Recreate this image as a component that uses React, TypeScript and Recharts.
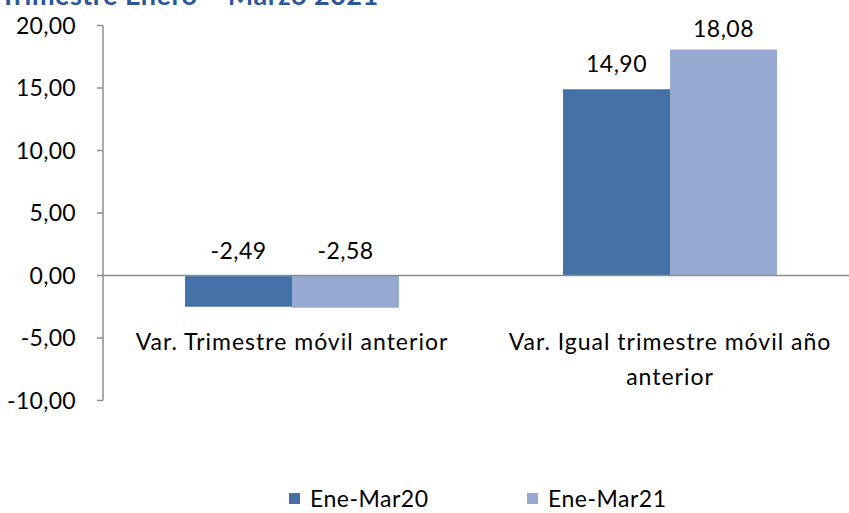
import React from 'react';
import { BarChart, Bar, XAxis, YAxis, ReferenceLine, LabelList, Legend } from 'recharts';

const categories = ['Var. Trimestre móvil anterior', 'Var. Igual trimestre móvil año anterior'];
const categoryLines = [['Var. Trimestre móvil anterior'], ['Var. Igual trimestre móvil año', 'anterior']];
const seriesNames = ['Ene-Mar20', 'Ene-Mar21'];
const ene20 = [-2.49, 14.9];
const ene21 = [-2.58, 18.08];
const yTicks = [-10, -5, 0, 5, 10, 15, 20];
const title = 'Trimestre Enero – Marzo 2021';

const COLORS = ['#4472A8', '#95A9D1'];
const AXIS = '#8E8E8E';
const FONT = 'Lato, sans-serif';

const data = categories.map((c, i) => ({ cat: c, idx: i, a: ene20[i], b: ene21[i] }));

const fmt = (v: number) => v.toFixed(2).replace('.', ',');

const BarLabel = (props: any) => {
  const { x, y, width, height, value } = props;
  const top = Math.min(y, y + height);
  const baseline = Math.max(top - 17, 37);
  return (
    <text x={x + width / 2} y={baseline} textAnchor="middle" fontFamily={FONT} fontSize={23} letterSpacing={0.5} fill="#000">
      {fmt(value)}
    </text>
  );
};

const CatTick = (props: any) => {
  const { x, y, payload, index } = props;
  const lines = categoryLines[index] || [payload.value];
  return (
    <text x={x} y={y} textAnchor="middle" fontFamily={FONT} fontSize={23} letterSpacing={1} fill="#000">
      {lines.map((l: string, i: number) => (
        <tspan key={i} x={x} dy={i === 0 ? -59 : 35}>{l}</tspan>
      ))}
    </text>
  );
};

const LegendContent = () => (
  <div style={{ display: 'flex', alignItems: 'center', height: 30, paddingLeft: 289, fontFamily: FONT, fontSize: 23, letterSpacing: 0.5, color: '#000' }}>
    {seriesNames.map((n, i) => (
      <div key={n} style={{ display: 'flex', alignItems: 'center', width: i === 0 ? 238 : 200 }}>
        <div style={{ width: 11, height: 11, background: COLORS[i], marginRight: 10 }} />
        <span>{n}</span>
      </div>
    ))}
  </div>
);

export default function App() {
  return (
    <div style={{ position: 'fixed', left: 0, top: 0, width: 849, height: 513, overflow: 'hidden', background: '#fff' }}>
      <div style={{ position: 'absolute', left: 0, top: -19, fontFamily: FONT, fontWeight: 700, fontSize: 27, lineHeight: '27px', letterSpacing: 0.5, color: '#2B579A', whiteSpace: 'nowrap' }}>
        {title}
      </div>
      <BarChart
        width={870}
        height={513}
        data={data}
        margin={{ top: 25.5, right: 11, bottom: 22.5, left: 0 }}
        barCategoryGap="21.7%"
        barGap={0}
      >
        <XAxis dataKey="cat" axisLine={false} tickLine={false} height={60} tick={<CatTick />} interval={0} />
        <XAxis xAxisId="n" type="number" domain={[0, 2]} hide />
        <YAxis
          type="number"
          domain={[-10, 20]}
          ticks={yTicks}
          width={103}
          tickFormatter={fmt}
          axisLine={{ stroke: AXIS, strokeWidth: 1.5 }}
          tickLine={{ stroke: AXIS, strokeWidth: 1.5 }}
          tickSize={6}
          tickMargin={21}
          tick={{ fontFamily: FONT, fontSize: 23, letterSpacing: 0.3, fill: '#000' }}
          interval={0}
        />
        <ReferenceLine y={0} stroke={AXIS} strokeWidth={1.5} />
        <ReferenceLine xAxisId="n" segment={[{ x: 1, y: 0 }, { x: 1, y: -0.5 }]} stroke={AXIS} strokeWidth={1.5} />
        <Bar dataKey="a" name={seriesNames[0]} fill={COLORS[0]} isAnimationActive={false}>
          <LabelList dataKey="a" content={<BarLabel />} />
        </Bar>
        <Bar dataKey="b" name={seriesNames[1]} fill={COLORS[1]} isAnimationActive={false}>
          <LabelList dataKey="b" content={<BarLabel />} />
        </Bar>
        <Legend verticalAlign="bottom" content={<LegendContent />} wrapperStyle={{ left: 0, bottom: 0, width: 870, height: 30 }} />
      </BarChart>
    </div>
  );
}
